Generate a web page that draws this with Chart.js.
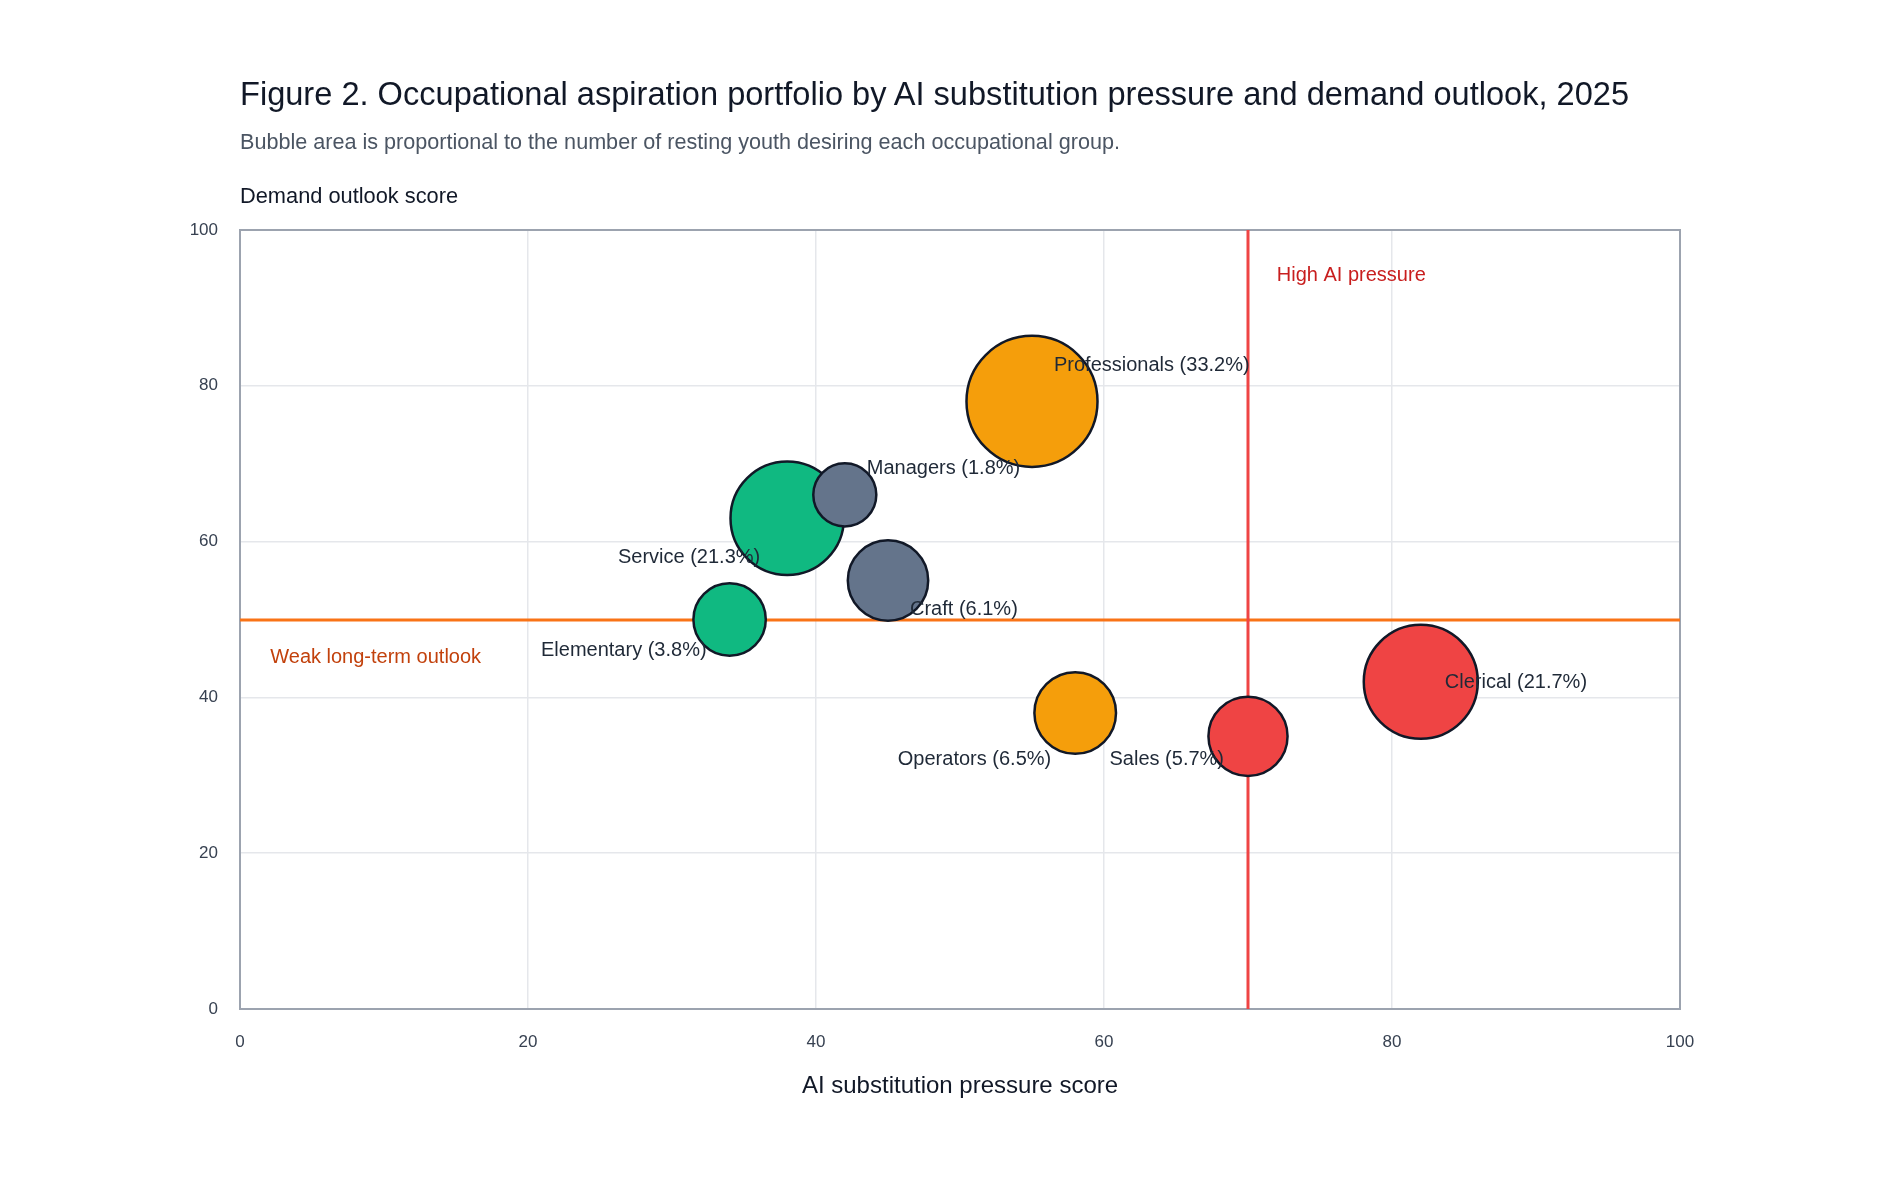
<!DOCTYPE html>
<html>
<head>
<meta charset="utf-8">
<script src="https://cdn.jsdelivr.net/npm/chart.js@4.4.1/dist/chart.umd.min.js"></script>
<style>
  body { margin: 0; background: #fff; font-family: "Liberation Sans", Arial, sans-serif; }
  #wrap { position: relative; width: 1900px; height: 1200px; }
  #wrap canvas { position: absolute; left: 0; top: 0; }
  .txt { position: absolute; white-space: nowrap; line-height: 1; }
  #title { left: 240px; top: 78px; font-size: 32.6px; color: #111827; }
  #subtitle { left: 240px; top: 131px; font-size: 21.6px; color: #4b5563; }
  #ytitle { left: 240px; top: 185px; font-size: 21.8px; color: #111827; }
</style>
</head>
<body>
<div id="wrap">
  <canvas id="chart" width="1900" height="1200"></canvas>
  <div class="txt" id="title">Figure 2. Occupational aspiration portfolio by AI substitution pressure and demand outlook, 2025</div>
  <div class="txt" id="subtitle">Bubble area is proportional to the number of resting youth desiring each occupational group.</div>
  <div class="txt" id="ytitle">Demand outlook score</div>
</div>
<script>
// Data
const occupations = ['Professionals', 'Service', 'Managers', 'Craft', 'Elementary', 'Operators', 'Sales', 'Clerical'];
const aiPressure = [55, 38, 42, 45, 34, 58, 70, 82];
const demandOutlook = [78, 63, 66, 55, 50, 38, 35, 42];
const aspirationShare = [33.2, 21.3, 1.8, 6.1, 3.8, 6.5, 5.7, 21.7];
const axisTicks = [0, 20, 40, 60, 80, 100];
const pressureThreshold = 70;
const outlookThreshold = 50;

// Colours per occupation
const bubbleColors = {
  Professionals: '#f59e0b', Operators: '#f59e0b',
  Service: '#10b981', Elementary: '#10b981',
  Managers: '#64748b', Craft: '#64748b',
  Sales: '#ef4444', Clerical: '#ef4444'
};

// Label placement relative to bubble centre (pixels)
const labelPlacement = {
  Professionals: { dx: 22, dy: -36, align: 'left' },
  Managers: { dx: 22, dy: -26, align: 'left' },
  Service: { dx: -27, dy: 39, align: 'right' },
  Craft: { dx: 22, dy: 29, align: 'left' },
  Elementary: { dx: -23, dy: 31, align: 'right' },
  Operators: { dx: -24, dy: 47, align: 'right' },
  Sales: { dx: -24, dy: 23, align: 'right' },
  Clerical: { dx: 24, dy: 1, align: 'left' }
};

// bubble radius from share (area-based with a minimum size)
function radiusFor(share) {
  return 21.2 + 7.69 * Math.sqrt(share);
}

const points = occupations.map((name, i) => ({
  x: aiPressure[i],
  y: demandOutlook[i],
  r: radiusFor(aspirationShare[i]),
  label: `${name} (${aspirationShare[i].toFixed(1)}%)`
}));

const refLines = {
  id: 'refLines',
  beforeDatasetsDraw(chart) {
    const { ctx, chartArea: a, scales: { x, y } } = chart;
    ctx.save();
    // frame around plot
    ctx.strokeStyle = '#9ca3af';
    ctx.lineWidth = 2;
    ctx.strokeRect(a.left, a.top, a.width, a.height);

    // threshold lines
    const px = Math.round(x.getPixelForValue(pressureThreshold));
    const py = Math.round(y.getPixelForValue(outlookThreshold));
    ctx.lineWidth = 3;
    ctx.strokeStyle = '#f97316';
    ctx.beginPath();
    ctx.moveTo(a.left, py);
    ctx.lineTo(a.right, py);
    ctx.stroke();
    ctx.strokeStyle = '#ef4444';
    ctx.beginPath();
    ctx.moveTo(px, a.top);
    ctx.lineTo(px, a.bottom);
    ctx.stroke();

    // zone notes
    ctx.font = '20px "Liberation Sans", Arial, sans-serif';
    ctx.textBaseline = 'middle';
    ctx.textAlign = 'left';
    ctx.fillStyle = '#c81e1e';
    ctx.fillText('High AI pressure', x.getPixelForValue(72), y.getPixelForValue(94.2));
    ctx.fillStyle = '#c2410c';
    ctx.fillText('Weak long-term outlook', x.getPixelForValue(2.1), y.getPixelForValue(45.1));
    ctx.restore();
  }
};

const bubbleLabels = {
  id: 'bubbleLabels',
  afterDatasetsDraw(chart) {
    const { ctx } = chart;
    const meta = chart.getDatasetMeta(0);
    ctx.save();
    ctx.font = '20px "Liberation Sans", Arial, sans-serif';
    ctx.fillStyle = '#1f2937';
    ctx.textBaseline = 'middle';
    meta.data.forEach((el, i) => {
      const place = labelPlacement[occupations[i]];
      ctx.textAlign = place.align;
      ctx.fillText(points[i].label, el.x + place.dx, el.y + place.dy);
    });
    ctx.restore();
  }
};

const tickFont = { family: '"Liberation Sans", Arial, sans-serif', size: 17 };

new Chart(document.getElementById('chart').getContext('2d'), {
  type: 'bubble',
  data: {
    datasets: [{
      data: points,
      backgroundColor: occupations.map(n => bubbleColors[n]),
      borderColor: '#111827',
      borderWidth: 2.5,
      hoverRadius: 0
    }]
  },
  options: {
    responsive: false,
    animation: false,
    events: [],
    layout: { padding: { top: 230, right: 220, left: 0, bottom: 0 } },
    plugins: {
      legend: { display: false },
      tooltip: { enabled: false }
    },
    scales: {
      x: {
        type: 'linear',
        min: 0,
        max: 100,
        afterBuildTicks: s => { s.ticks = axisTicks.map(v => ({ value: v })); },
        afterFit: s => { s.height = 191; },
        grid: { color: '#e5e7eb', lineWidth: 1.5, drawTicks: false },
        border: { display: false },
        ticks: { color: '#374151', font: tickFont, padding: 23, maxRotation: 0 },
        title: {
          display: true,
          text: 'AI substitution pressure score',
          color: '#111827',
          font: { family: '"Liberation Sans", Arial, sans-serif', size: 24 },
          padding: { top: 0, bottom: 99 }
        }
      },
      y: {
        type: 'linear',
        min: 0,
        max: 100,
        afterBuildTicks: s => { s.ticks = axisTicks.map(v => ({ value: v })); },
        afterFit: s => { s.width = 240; },
        grid: { color: '#e5e7eb', lineWidth: 1.5, drawTicks: false },
        border: { display: false },
        ticks: { color: '#374151', font: tickFont, padding: 22 }
      }
    }
  },
  plugins: [refLines, bubbleLabels]
});
</script>
</body>
</html>
